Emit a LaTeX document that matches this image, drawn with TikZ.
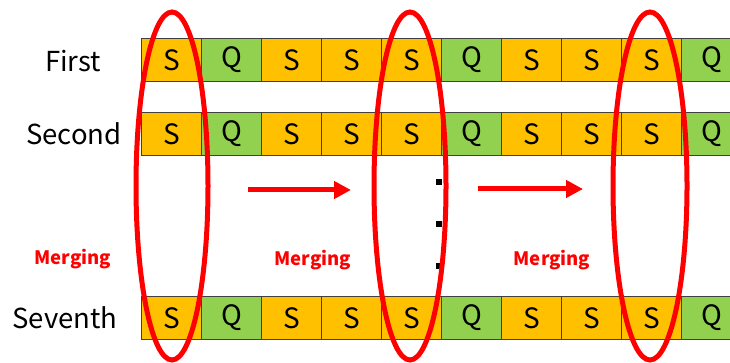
\documentclass[tikz,border=0pt]{standalone}
\usepackage{fontspec}
\setmainfont{Noto Sans CJK JP}
\usetikzlibrary{arrows.meta}
\definecolor{cellS}{HTML}{FFC000}
\definecolor{cellQ}{HTML}{92D050}
\definecolor{mred}{HTML}{FF0000}
\begin{document}
\begin{tikzpicture}[x=1pt,y=-1pt,
  cellbox/.style={draw=black!75, line width=0.8pt, minimum width=60pt, minimum height=43pt,
    inner sep=0pt, anchor=north west, font=\fontsize{28}{28}\selectfont},
  rowlabel/.style={font=\fontsize{27.5}{27.5}\selectfont},
  mergelabel/.style={text=mred, font=\bfseries\fontsize{18.5}{18.5}\selectfont},
  loop/.style={draw=mred, line width=5pt},
  flow/.style={draw=mred, line width=5pt, -{Triangle[length=17pt,width=17pt]}},
  dotsq/.style={fill=black, minimum size=6pt, inner sep=0pt}]
\useasboundingbox (0,0) rectangle (730,363);
\clip (0,0) rectangle (730,363);
\foreach \row/\ty in {1/38, 2/112, 7/296} {
  \foreach \t/\fc [count=\i] in {S/cellS,Q/cellQ,S/cellS,S/cellS,S/cellS,Q/cellQ,S/cellS,S/cellS,S/cellS,Q/cellQ} {
    \pgfmathsetmacro\xx{141+60*(\i-1)}
    \node[cellbox, fill=\fc] (r\row c\i) at (\xx,\ty) {\t};
  }
}
\node[rowlabel] (lab1) at (73,61) {First};
\node[rowlabel] (lab2) at (74,134) {Second};
\node[rowlabel] (lab7) at (65,318) {Seventh};
\node[mergelabel] (m1) at (73,259) {Merging};
\node[mergelabel] (m2) at (313,260) {Merging};
\node[mergelabel] (m3) at (552,260) {Merging};
\coordinate (a1s) at (248,190);
\coordinate (a1e) at (351,190);
\coordinate (a2s) at (478,189);
\coordinate (a2e) at (583,189);
\draw[flow] (a1s) -- (a1e);
\draw[flow] (a2s) -- (a2e);
\node[dotsq] (d1) at (438.5,182) {};
\node[dotsq] (d2) at (438.5,224) {};
\node[dotsq] (d3) at (438.5,266) {};
\draw[loop] (172,186) ellipse [x radius=36pt, y radius=174pt];
\draw[loop] (410,186) ellipse [x radius=36pt, y radius=174pt];
\draw[loop] (650,186) ellipse [x radius=37pt, y radius=174pt];
\end{tikzpicture}
\end{document}
